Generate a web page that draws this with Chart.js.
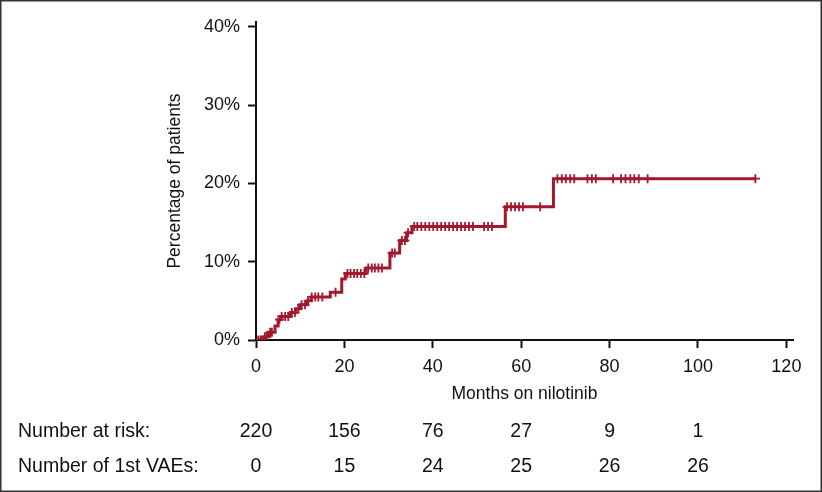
<!DOCTYPE html>
<html lang="en">
<head>
    <meta charset="UTF-8">
    <title>Cumulative incidence of first VAE</title>
    <script src="https://cdn.jsdelivr.net/npm/chart.js"></script>
    <style>
        html, body { margin: 0; padding: 0; background: #fff; }
        .chart-box { position: relative; width: 822px; height: 492px; }
    </style>
</head>
<body>
    <div class="chart-box">
        <canvas id="vaeChart"></canvas>
    </div>

    <script>
        // Step curve: time (months) where the cumulative % changes, and the new level
        const STEP_TIMES = [0, 1.8, 2.8, 4.3, 5.0, 5.6, 7.8, 9.0, 10.0, 11.5, 12.5, 16.8, 19.4, 20.2, 24.9, 30.3, 32.5, 34.1, 35.3, 56.4, 67.3];
        const STEP_PCT   = [0, 0.4, 1.0, 1.8, 2.6, 3.0, 3.5, 4.0, 4.5, 5.0, 5.5, 6.1, 7.8, 8.5, 9.2, 11.1, 12.7, 13.7, 14.5, 17.0, 20.6];
        const END_TIME = 113;

        // Censoring marks (months)
        const CENSOR_TIMES = [0.5, 1.0, 1.3, 2.0, 2.4, 3.2, 3.6, 5.3, 5.8, 6.6, 7.3, 8.1, 8.8, 9.6, 10.3, 11.1, 11.8, 12.6, 13.4, 14.1, 15.0, 18.0,
            20.7, 21.4, 22.2, 22.9, 23.7, 24.5, 25.4, 26.2, 26.9, 27.7, 28.5, 30.8, 31.4, 33.0, 33.7, 34.4, 35.8,
            36.5, 37.4, 38.3, 39.2, 40.1, 41.0, 41.9, 42.8, 43.7, 44.6, 45.5, 46.4, 47.3, 48.2, 49.1, 51.6, 52.5, 53.4,
            56.8, 57.7, 58.6, 59.5, 60.4, 64.3,
            68.2, 69.2, 70.1, 71.1, 72.0, 75.0, 76.0, 76.9, 80.8, 82.6, 83.6, 84.7, 85.6, 86.6, 88.6, 113.0];

        // Table under the plot
        const RISK_TIMES = [0, 20, 40, 60, 80, 100];
        const AT_RISK    = [220, 156, 76, 27, 9, 1];
        const FIRST_VAES = [0, 15, 24, 25, 26, 26];

        const X_TICKS = [0, 20, 40, 60, 80, 100, 120];
        const Y_TICKS = [0, 10, 20, 30, 40];

        const CURVE_COLOR = '#a3182e';
        const BODY_FONT = '"Liberation Sans", Arial, sans-serif';

        function levelAt(t) {
            let v = 0;
            for (let i = 0; i < STEP_TIMES.length; i++) {
                if (STEP_TIMES[i] <= t) v = STEP_PCT[i];
            }
            return v;
        }

        const curveData = STEP_TIMES.map((t, i) => ({ x: t, y: STEP_PCT[i] }));
        curveData.push({ x: END_TIME, y: STEP_PCT[STEP_PCT.length - 1] });
        const censorData = CENSOR_TIMES.map(t => ({ x: t, y: levelAt(t) }));

        // white background, frame and the number-at-risk table
        const tablePlugin = {
            id: 'riskTable',
            beforeDraw(chart) {
                const ctx = chart.ctx;
                ctx.save();
                ctx.fillStyle = '#fff';
                ctx.fillRect(0, 0, chart.width, chart.height);
                ctx.restore();
            },
            afterDraw(chart) {
                const ctx = chart.ctx;
                const xs = chart.scales.x;
                ctx.save();
                ctx.fillStyle = '#111';
                ctx.font = '19.5px ' + BODY_FONT;
                ctx.textBaseline = 'middle';
                ctx.textAlign = 'left';
                ctx.fillText('Number at risk:', 18, 432);
                ctx.fillText('Number of 1st VAEs:', 18, 467);
                ctx.textAlign = 'center';
                RISK_TIMES.forEach((t, i) => {
                    const px = xs.getPixelForValue(t);
                    ctx.fillText(String(AT_RISK[i]), px, 432);
                    ctx.fillText(String(FIRST_VAES[i]), px, 467);
                });
                ctx.strokeStyle = '#333';
                ctx.lineWidth = 1.5;
                ctx.strokeRect(0.75, 0.75, chart.width - 1.5, chart.height - 1.5);
                ctx.restore();
            }
        };

        new Chart(document.getElementById('vaeChart'), {
            type: 'line',
            data: {
                datasets: [
                    {
                        label: 'Censored',
                        data: censorData,
                        showLine: false,
                        pointStyle: 'cross',
                        pointRadius: 4.5,
                        pointBorderWidth: 1.8,
                        borderColor: CURVE_COLOR,
                        backgroundColor: CURVE_COLOR,
                        order: 0
                    },
                    {
                        label: 'First VAE',
                        data: curveData,
                        stepped: 'before',
                        borderColor: CURVE_COLOR,
                        borderWidth: 3,
                        pointRadius: 0,
                        fill: false,
                        order: 1
                    }
                ]
            },
            options: {
                responsive: true,
                maintainAspectRatio: false,
                animation: false,
                layout: { padding: { left: 160, right: 29, top: 22, bottom: 84 } },
                plugins: {
                    legend: { display: false },
                    tooltip: { enabled: false }
                },
                scales: {
                    x: {
                        type: 'linear',
                        min: 0,
                        max: 121.5,
                        afterBuildTicks: s => { s.ticks = X_TICKS.map(v => ({ value: v })); },
                        afterFit: s => { s.height = 68; },
                        border: { display: true, color: '#111', width: 2 },
                        grid: { drawOnChartArea: false, drawTicks: true, tickLength: 8, tickColor: '#111', tickWidth: 2 },
                        ticks: { color: '#111', font: { family: BODY_FONT, size: 18 }, padding: 8, maxRotation: 0 },
                        title: { display: true, text: 'Months on nilotinib', color: '#111', font: { family: BODY_FONT, size: 17.5 }, padding: { top: 0, bottom: 3 } }
                    },
                    y: {
                        min: 0,
                        max: 40.6,
                        afterBuildTicks: s => { s.ticks = Y_TICKS.map(v => ({ value: v })); },
                        afterFit: s => { s.width = 96; },
                        border: { display: true, color: '#111', width: 2 },
                        grid: { drawOnChartArea: false, drawTicks: true, tickLength: 8, tickColor: '#111', tickWidth: 2 },
                        ticks: { color: '#111', font: { family: BODY_FONT, size: 18 }, padding: 8, callback: v => v + '%' },
                        title: { display: true, text: 'Percentage of patients', color: '#111', font: { family: BODY_FONT, size: 17.5 }, padding: { top: 5, bottom: 0 } }
                    }
                }
            },
            plugins: [tablePlugin]
        });
    </script>
</body>
</html>
